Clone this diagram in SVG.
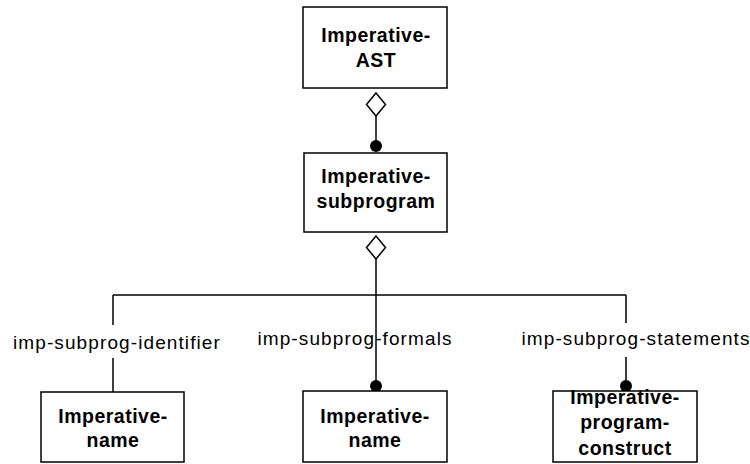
<svg xmlns="http://www.w3.org/2000/svg" width="750" height="464" viewBox="0 0 750 464">
<style>
.box{fill:#fff;stroke:#000;stroke-width:1.5}
.bt{font-family:"Liberation Sans",Arial,sans-serif;font-weight:bold;font-size:19.5px;letter-spacing:0.5px;text-anchor:middle;fill:#000}
.lbl{font-family:"Liberation Sans",Arial,sans-serif;font-size:19px;letter-spacing:1.1px;text-anchor:middle;fill:#000}
.ln{stroke:#000;stroke-width:1.5;fill:none}
.dia{fill:#fff;stroke:#000;stroke-width:1.5}
.dot{fill:#000}
</style>
<rect width="750" height="464" fill="#fff"/>
<g id="connectors">
<path class="ln" d="M376 116 V145"/>
<polygon class="dia" points="376,93 385.5,104.5 376,116 366.5,104.5"/>
<circle class="dot" cx="376" cy="146" r="6"/>
<path class="ln" d="M376 259 V385"/>
<polygon class="dia" points="376,236 385.5,247.5 376,259 366.5,247.5"/>
<path class="ln" d="M113 295 H626"/>
<path class="ln" d="M113 295 V325 M113 358 V392"/>
<path class="ln" d="M626 295 V323 M626 357 V385"/>
<circle class="dot" cx="376" cy="386" r="6"/>
<circle class="dot" cx="626" cy="386" r="6"/>
<text class="lbl" x="117" y="349">imp-subprog-identifier</text>
<text class="lbl" x="355" y="345">imp-subprog-formals</text>
<text class="lbl" x="636" y="345">imp-subprog-statements</text>
</g>
<g id="imperative-ast">
<rect class="box" x="303" y="7" width="144" height="81"/>
<text class="bt" x="376" y="42">Imperative-</text>
<text class="bt" x="376" y="67">AST</text>
</g>
<g id="imperative-subprogram">
<rect class="box" x="304" y="153" width="143" height="79"/>
<text class="bt" x="376" y="183">Imperative-</text>
<text class="bt" x="376" y="208">subprogram</text>
</g>
<g id="imperative-name-1">
<rect class="box" x="41" y="392" width="143" height="70"/>
<text class="bt" x="113" y="423">Imperative-</text>
<text class="bt" x="113" y="447">name</text>
</g>
<g id="imperative-name-2">
<rect class="box" x="303" y="391" width="144" height="71"/>
<text class="bt" x="375" y="423">Imperative-</text>
<text class="bt" x="375" y="447">name</text>
</g>
<g id="imperative-program-construct">
<rect class="box" x="553" y="391" width="144" height="71"/>
<text class="bt" x="625" y="404">Imperative-</text>
<text class="bt" x="625" y="429">program-</text>
<text class="bt" x="625" y="455">construct</text>
</g>
</svg>
